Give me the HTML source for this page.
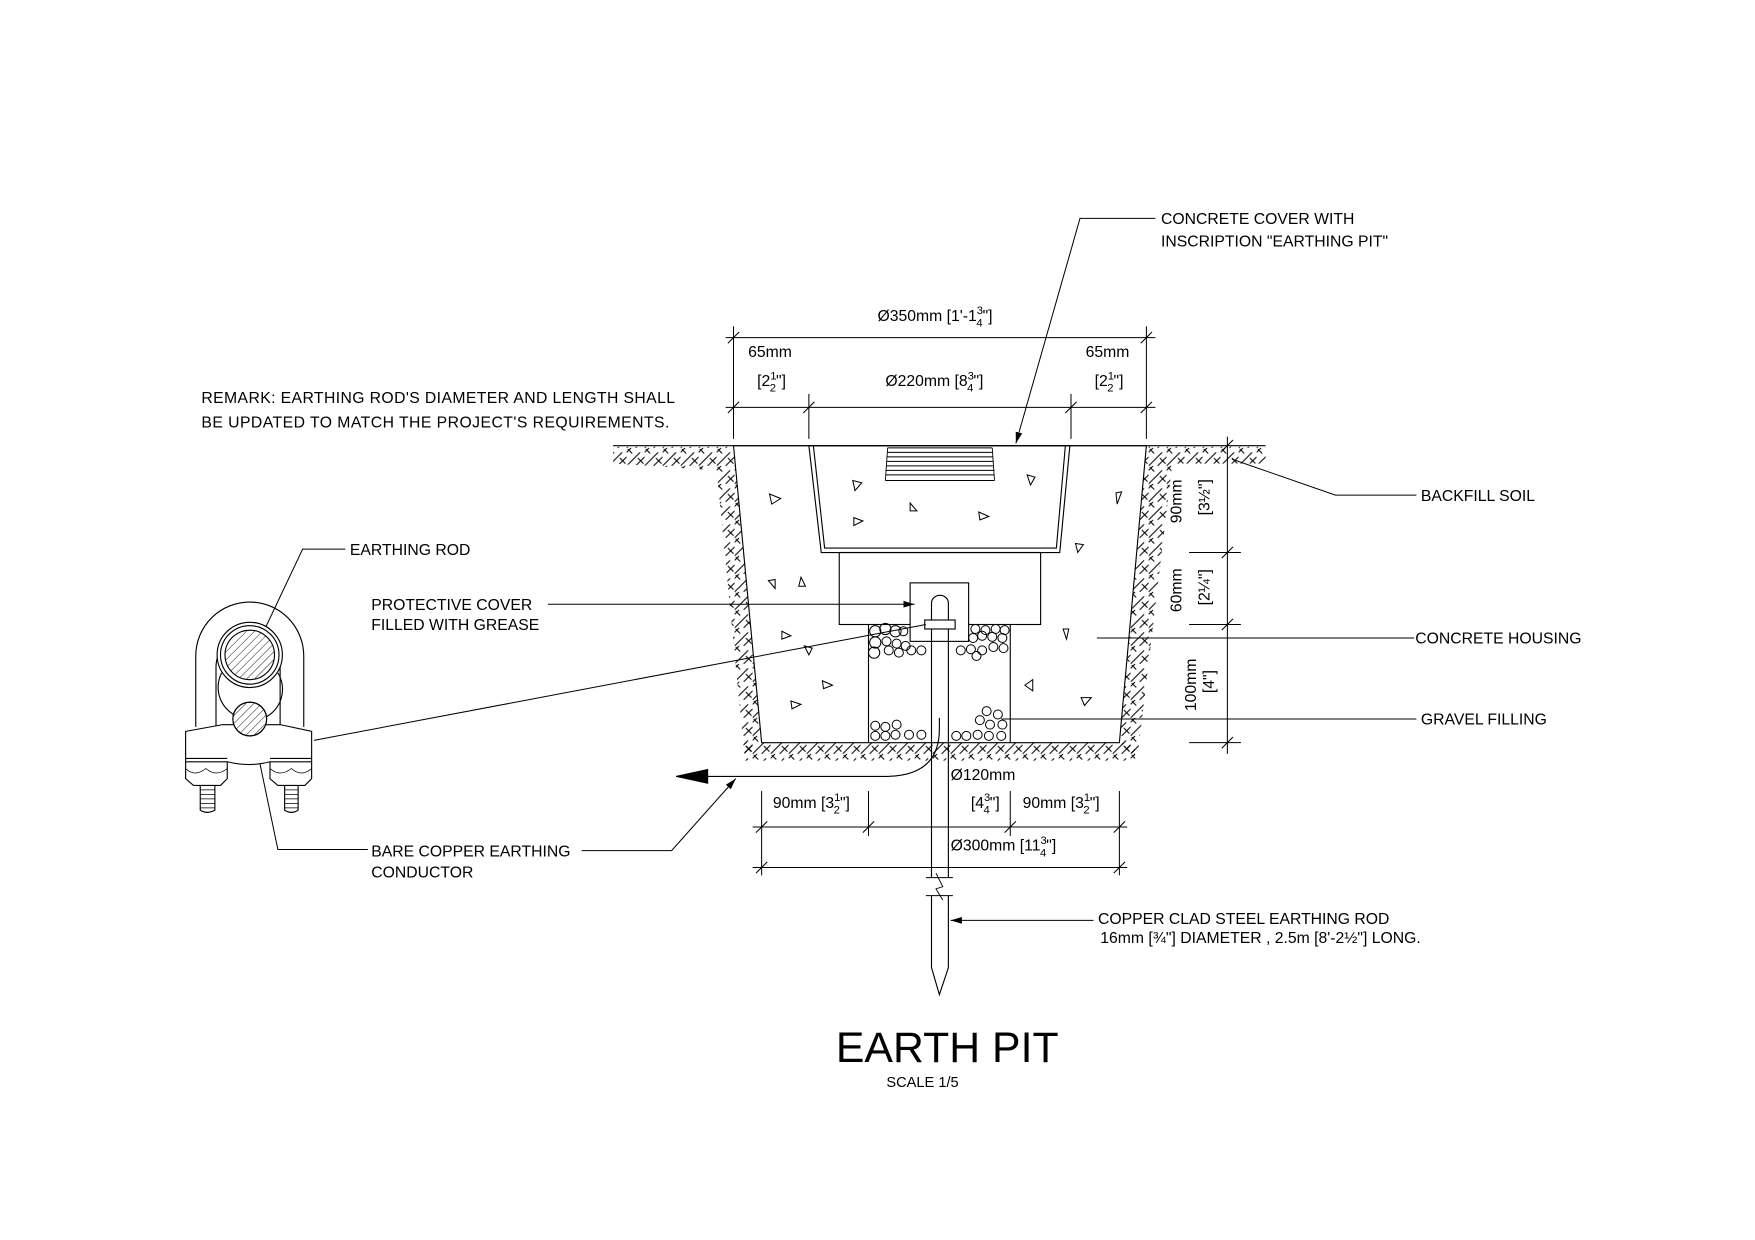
<!DOCTYPE html>
<html><head><meta charset="utf-8"><style>html,body{margin:0;padding:0;background:#fff}svg{display:block}</style></head>
<body>
<svg width="1755" height="1240" viewBox="0 0 1560 1102" xmlns="http://www.w3.org/2000/svg" font-family="'Liberation Sans', Arial, sans-serif" font-size="14" fill="none" stroke="#000" stroke-width="1">
<defs>
<pattern id="soil" width="16" height="16" patternUnits="userSpaceOnUse">
<path d="M0 16L12 4M8 16L16 8M4 0L0 4" stroke="#000" stroke-width="0.9"/>
<path d="M10 9L15 14M1 1L5 5" stroke="#000" stroke-width="0.9"/>
</pattern>
<pattern id="rodh" width="5" height="5" patternUnits="userSpaceOnUse" patternTransform="rotate(45)">
<line x1="0" y1="0" x2="0" y2="5" stroke="#000" stroke-width="0.8"/>
</pattern>
<marker id="ar" markerWidth="10" markerHeight="6" refX="10" refY="3" orient="auto" markerUnits="userSpaceOnUse"><path d="M0 0L10 3L0 6Z" fill="#000" stroke="none"/></marker>
</defs>

<g transform="translate(-3,-2)">
<!-- soil hatch -->
<g fill="url(#soil)" stroke="none">
<polygon points="548,399 655,399 680,662 665,676 640,420 548,414"/>
<polygon points="665,662 1012,662 1012,678 665,678"/>
<polygon points="1022,399 1128,399 1128,414 1045,414 1014,676 998,662"/>
</g>
<line x1="548" y1="398" x2="1128" y2="398"/>
<polygon points="655,398 680,662 998,662 1022,398"/>

<polygon points="722,398 733,493 945,493 954,398"/>
<polyline points="726,398 736,489 942,489 950,398"/>
<g stroke-width="0.8">
<path d="M792 400H885M792 404H885M791 408H886M791 412H886M791 416H886M790 420H887M790 424H887M790 429H887M792 400L790 429M885 400L887 429"/>
</g>

<rect x="749" y="493" width="179" height="64"/>
<rect x="812" y="520" width="52" height="52" fill="#fff"/>
<path d="M775 557V662M901 557V662"/>
<path d="M831 538V782M846 538V782M831 538A7.5 7 0 0 1 846 538"/>
<path d="M831 798V862L838 886L846 862V798"/>
<path d="M826 782H850M826 798H850M835 778L841 790L835 792L841 802" stroke-width="0.8"/>
<rect x="825" y="553" width="27" height="8" fill="#fff"/>

<g stroke-width="0.9">
<circle cx="781" cy="563" r="5"/><circle cx="790" cy="561" r="5"/><circle cx="799" cy="563" r="5"/><circle cx="806" cy="563" r="4"/>
<circle cx="781" cy="573" r="5"/><circle cx="791" cy="572" r="4"/><circle cx="800" cy="574" r="4"/><circle cx="808" cy="576" r="4"/>
<circle cx="780" cy="582" r="5"/><circle cx="793" cy="580" r="4"/><circle cx="802" cy="582" r="4"/><circle cx="813" cy="580" r="4"/><circle cx="822" cy="580" r="4"/>
<circle cx="857" cy="580" r="4"/><circle cx="866" cy="579" r="4"/><circle cx="876" cy="580" r="4"/><circle cx="886" cy="577" r="4"/><circle cx="895" cy="578" r="4"/>
<circle cx="868" cy="569" r="4"/><circle cx="876" cy="567" r="4"/><circle cx="885" cy="568" r="4"/><circle cx="894" cy="569" r="4"/>
<circle cx="870" cy="561" r="4"/><circle cx="879" cy="562" r="4"/><circle cx="888" cy="561" r="4"/><circle cx="896" cy="562" r="4"/><circle cx="871" cy="585" r="4"/>
<circle cx="781" cy="647" r="4"/><circle cx="790" cy="648" r="4"/><circle cx="800" cy="646" r="4"/><circle cx="811" cy="655" r="4"/><circle cx="822" cy="655" r="4"/>
<circle cx="781" cy="656" r="4"/><circle cx="790" cy="656" r="4"/><circle cx="799" cy="655" r="4"/>
<circle cx="853" cy="656" r="4"/><circle cx="862" cy="656" r="4"/><circle cx="872" cy="655" r="4"/><circle cx="882" cy="656" r="4"/><circle cx="893" cy="656" r="4"/>
<circle cx="874" cy="642" r="4"/><circle cx="883" cy="646" r="4"/><circle cx="890" cy="637" r="4"/><circle cx="894" cy="646" r="4"/><circle cx="880" cy="634" r="4"/>
</g>

<g stroke-width="0.9">
<path d="M687 441L697 445L689 450Z"/><path d="M761 429L769 431L763 438Z"/><path d="M916 424L923 426L919 433Z"/><path d="M995 440L1000 439L996 450Z"/>
<path d="M762 462L770 465L762 469Z"/><path d="M812 449L818 456L812 456Z"/><path d="M873 457L882 461L874 464Z"/><path d="M959 485L966 486L961 493Z"/>
<path d="M686 518L692 517L692 525Z"/><path d="M715 515L719 523L713 523Z"/><path d="M698 563L706 567L698 570Z"/><path d="M718 576L725 578L722 584Z"/>
<path d="M734 607L743 611L735 614Z"/><path d="M706 625L715 628L707 632Z"/><path d="M948 561L953 561L951 570Z"/><path d="M914 611L921 606L921 616Z"/><path d="M964 622L973 622L967 629Z"/>
</g>

<path d="M838 640V650Q838 692 790 692H630"/>
<path d="M604 692L632 686L632 698Z" fill="#000"/>

<g stroke-width="0.9">
<path d="M648 302H1030M648 364H1030M655 292V392M1022 292V392M722 352V392M955 352V392"/>
<path d="M650 307L660 297M1017 307L1027 297M650 369L660 359M717 369L727 359M950 369L960 359M1017 369L1027 359"/>
</g>
<g stroke-width="0.9">
<path d="M1094 390V672M1060 493H1106M1060 557H1106M1060 662H1106M1089 403L1099 393M1089 498L1099 488M1089 562L1099 552M1089 667L1099 657"/>
</g>
<g stroke-width="0.9">
<path d="M672 737H1005M672 773H1005M680 705V780M998 705V780M775 705V745M901 705V745"/>
<path d="M675 742L685 732M770 742L780 732M896 742L906 732M993 742L1003 732M675 778L685 768M993 778L1003 768"/>
</g>

<g stroke-width="0.9">
<path d="M1030 196H963L906 396" marker-end="url(#ar)"/>
<path d="M1098 410L1190 442H1262"/>
<path d="M978 569H1260"/>
<path d="M893 641H1262"/>
<path d="M975 820H848" marker-end="url(#ar)"/>
<path d="M490 539H816" marker-end="url(#ar)"/>
<path d="M282 660L826 557"/>
<path d="M310 490H272L228 583"/>
<path d="M330 757H250L226 642"/>
<path d="M520 758H600L657 694" marker-end="url(#ar)"/>
</g>

<g stroke-width="1">
<path d="M177 648V585A48 48 0 0 1 273 585V648"/>
<path d="M195 648V595A28 28 0 0 1 252 595V648"/>
<circle cx="225" cy="584" r="29" fill="#fff"/>
<circle cx="225" cy="584" r="26"/>
<circle cx="225" cy="584" r="22" fill="url(#rodh)"/>
<path d="M200 600A28 28 0 0 0 218 640M250 600A28 28 0 0 1 238 640"/>
<path d="M168 652L201 646L252 646L280 652V679L243 679Q225 684 205 679L168 679Z" fill="#fff"/>
<circle cx="225" cy="641" r="15" fill="#fff"/>
<circle cx="225" cy="641" r="15" fill="url(#rodh)"/>
<path d="M168 676H205M243 676H280"/>
<path d="M168 679V694L175 700H199L205 694V679M243 679V694L250 700H274L280 694V679"/>
<path d="M181 700V722Q187 726 194 722V700M256 700V722Q262 726 268 722V700"/>
<path d="M181 704H194M181 708H194M181 712H194M181 716H194M181 720H194M256 704H268M256 708H268M256 712H268M256 716H268M256 720H268" stroke-width="0.7"/>
<path d="M168 685Q176 693 186 685Q195 693 205 685M243 685Q252 693 262 685Q271 693 280 685" stroke-width="0.7"/>
</g>

<g fill="#000" stroke="none">
<text x="182" y="360" textLength="421">REMARK: EARTHING ROD'S DIAMETER AND LENGTH SHALL</text>
<text x="182" y="382" textLength="416">BE UPDATED TO MATCH THE PROJECT'S REQUIREMENTS.</text>
<text x="1035" y="201">CONCRETE COVER WITH</text>
<text x="1035" y="221">INSCRIPTION "EARTHING PIT"</text>
<text x="1266" y="447">BACKFILL SOIL</text>
<text x="1261" y="574">CONCRETE HOUSING</text>
<text x="1266" y="646">GRAVEL FILLING</text>
<text x="314" y="495">EARTHING ROD</text>
<text x="333" y="544">PROTECTIVE COVER</text>
<text x="333" y="562">FILLED WITH GREASE</text>
<text x="333" y="763">BARE COPPER EARTHING</text>
<text x="333" y="782">CONDUCTOR</text>
<text x="979" y="823">COPPER CLAD STEEL EARTHING ROD</text>
<text x="981" y="840">16mm [¾"] DIAMETER , 2.5m [8'-2½"] LONG.</text>
<text x="783" y="287">Ø350mm [1'-1<tspan font-size="10" dy="-6">3</tspan><tspan font-size="10" dx="-6" dy="11">4</tspan><tspan dy="-5">"]</tspan></text>
<text x="668" y="319">65mm</text>
<text x="968" y="319">65mm</text>
<text x="676" y="345">[2<tspan font-size="10" dy="-6">1</tspan><tspan font-size="10" dx="-6" dy="11">2</tspan><tspan dy="-5">"]</tspan></text>
<text x="976" y="345">[2<tspan font-size="10" dy="-6">1</tspan><tspan font-size="10" dx="-6" dy="11">2</tspan><tspan dy="-5">"]</tspan></text>
<text x="790" y="345">Ø220mm [8<tspan font-size="10" dy="-6">3</tspan><tspan font-size="10" dx="-6" dy="11">4</tspan><tspan dy="-5">"]</tspan></text>
<text x="848" y="695">Ø120mm</text>
<text x="690" y="720">90mm [3<tspan font-size="10" dy="-6">1</tspan><tspan font-size="10" dx="-6" dy="11">2</tspan><tspan dy="-5">"]</tspan></text>
<text x="866" y="720">[4<tspan font-size="10" dy="-6">3</tspan><tspan font-size="10" dx="-6" dy="11">4</tspan><tspan dy="-5">"]</tspan></text>
<text x="912" y="720">90mm [3<tspan font-size="10" dy="-6">1</tspan><tspan font-size="10" dx="-6" dy="11">2</tspan><tspan dy="-5">"]</tspan></text>
<text x="848" y="758">Ø300mm [11<tspan font-size="10" dy="-6">3</tspan><tspan font-size="10" dx="-6" dy="11">4</tspan><tspan dy="-5">"]</tspan></text>
<text transform="translate(1053,467) rotate(-90)">90mm</text>
<text transform="translate(1078,460) rotate(-90)">[3½"]</text>
<text transform="translate(1053,546) rotate(-90)">60mm</text>
<text transform="translate(1078,540) rotate(-90)">[2¼"]</text>
<text transform="translate(1066,634) rotate(-90)">100mm</text>
<text transform="translate(1082,618) rotate(-90)">[4"]</text>
<text x="845" y="946" font-size="38" text-anchor="middle" textLength="198">EARTH  PIT</text>
<text x="823" y="968" font-size="13" text-anchor="middle">SCALE 1/5</text>
</g>
</g>
</svg>
</body></html>
